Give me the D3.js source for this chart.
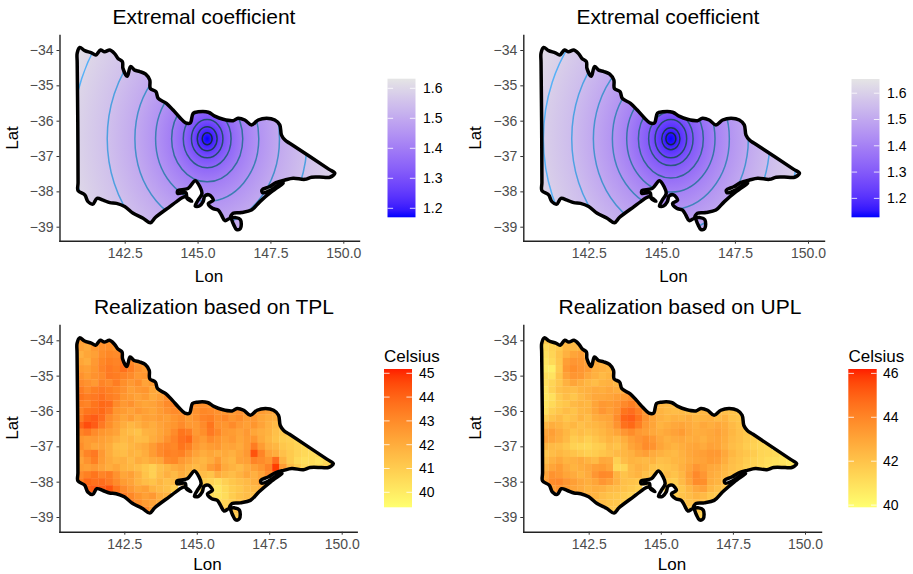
<!DOCTYPE html>
<html>
<head>
<meta charset="utf-8">
<script src="https://cdn.jsdelivr.net/npm/d3@7"></script>
<style>
  body { margin: 0; background: #fff; }
  text { font-family: "Liberation Sans", Arial, sans-serif; }
</style>
</head>
<body>
<div id="vis"></div>
<script>
// state outline, lon/lat
const outlineLon = [140.87,140.96,141.13,141.36,141.51,141.67,141.81,141.99,142.16,142.27,142.42,142.44,142.59,142.70,142.84,143.02,143.22,143.36,143.38,143.57,143.65,143.93,144.16,144.39,144.59,144.75,144.85,145.02,145.37,145.59,145.88,146.22,146.39,146.62,146.85,147.08,147.37,147.65,147.82,147.88,148.00,148.20,149.50,149.71,149.54,149.31,148.91,148.68,148.28,148.00,147.69,147.46,147.21,147.23,147.48,147.73,147.94,147.54,147.14,146.85,146.51,146.22,146.13,146.29,146.47,146.47,146.34,146.22,146.13,145.94,145.82,145.71,145.51,145.37,145.54,145.40,145.25,145.19,145.06,144.92,145.01,145.15,145.08,144.92,144.67,144.32,144.32,144.60,144.64,144.80,144.56,144.28,144.05,143.55,143.38,143.13,142.79,142.50,142.22,141.99,141.76,141.55,141.41,141.24,141.13,140.90,140.90,140.89,140.87]
const outlineLat = [-34.09,-33.93,-34.02,-34.08,-34.14,-34.00,-34.05,-34.00,-34.11,-34.24,-34.33,-34.52,-34.74,-34.47,-34.57,-34.61,-34.68,-34.85,-35.09,-35.18,-35.37,-35.51,-35.70,-35.91,-36.06,-36.06,-35.79,-35.75,-35.76,-35.87,-35.96,-36.00,-35.93,-35.98,-36.12,-35.98,-35.93,-35.98,-36.12,-36.41,-36.55,-36.66,-37.37,-37.49,-37.60,-37.60,-37.60,-37.66,-37.63,-37.68,-37.755,-37.87,-37.96,-38.04,-37.98,-37.85,-37.77,-38.01,-38.29,-38.53,-38.60,-38.62,-38.74,-38.74,-38.80,-39.05,-39.08,-38.91,-38.76,-38.83,-38.67,-38.53,-38.48,-38.34,-38.25,-38.10,-38.13,-38.29,-38.415,-38.415,-38.26,-38.06,-37.87,-37.70,-37.92,-37.98,-38.06,-38.04,-38.20,-38.28,-38.15,-38.29,-38.43,-38.74,-38.89,-38.76,-38.62,-38.43,-38.34,-38.32,-38.25,-38.20,-38.36,-38.29,-38.10,-37.98,-37.75,-36.00,-34.35]

// extremal coefficient fields: contour radius in degrees around the minimum, and its level
const coefCentreA = [145.33, -36.51]
const coefRadiiA = [0, 0.17, 0.34, 0.54, 0.82, 1.22, 1.77, 2.48, 3.43, 4.63, 5.2]
const coefLevelsA = [1.17, 1.2, 1.25, 1.3, 1.35, 1.4, 1.45, 1.5, 1.55, 1.6, 1.625]
const coefCentreB = [145.31, -36.51]
const coefRadiiB = [0, 0.17, 0.31, 0.54, 0.76, 1.11, 1.51, 2.0, 2.65, 3.39, 4.36, 5.2]
const coefLevelsB = [1.13, 1.15, 1.2, 1.25, 1.3, 1.35, 1.4, 1.45, 1.5, 1.55, 1.6, 1.64]

// realization cells, rows from lat -34.0 going south by 0.2, cols from lon 140.85 going east by 0.25, 0 = no cell
const tplRows = [
[42.4,42.7,42.6,42.8,42.6,42.5],
[42.3,42.1,42.6,42.8,42.9,42.7,42.5],
[41.9,42.2,42.4,42.9,43.1,43.0,43.2,42.7,42.4],
[42.2,42.0,42.6,43.1,43.3,43.2,43.5,43.1,42.6,42.5],
[42.5,42.4,42.7,43.2,43.5,43.3,43.7,43.3,42.8,42.5,42.6],
[42.8,42.5,42.8,43.0,43.5,43.4,43.2,43.0,42.6,42.7,42.3],
[43.0,42.8,42.6,43.2,43.0,43.4,42.9,42.6,42.9,42.3,42.5,42.2],
[43.4,43.0,43.3,43.5,43.3,43.1,42.8,42.4,42.6,42.7,42.2,42.0,42.4],
[43.6,43.4,43.5,43.7,43.4,43.2,42.7,42.5,42.3,42.5,42.1,42.4,42.9,43.0],
[43.3,43.2,43.6,43.9,43.8,43.0,42.6,42.8,42.4,42.2,42.3,42.6,43.0,43.2,43.1,43.0,42.8,42.9,42.7,42.5],
[43.2,43.6,43.7,43.9,43.5,42.7,42.5,42.3,42.6,42.4,42.2,42.5,42.8,43.0,42.9,42.7,42.8,43.1,43.0,42.8,42.7,42.6,42.8,42.6,42.4,42.5,42.3,42.2,42.0],
[43.4,44.0,44.2,43.8,43.0,42.6,42.2,42.5,42.1,42.4,42.3,42.5,42.4,42.7,42.9,42.5,42.8,43.2,43.3,42.9,43.1,42.7,42.9,42.5,42.6,42.2,42.0,41.9,41.8],
[44.0,44.5,44.2,43.5,42.9,42.4,42.0,41.7,41.9,42.2,42.0,42.3,42.5,42.7,43.0,42.6,42.6,43.0,43.6,42.8,42.7,43.0,42.6,42.4,42.7,42.3,41.9,41.6,41.7],
[43.2,43.5,43.0,42.7,42.5,42.3,41.7,41.5,41.3,41.8,41.9,42.2,42.5,43.0,43.6,43.4,42.6,42.9,43.5,43.1,42.6,42.5,42.3,42.6,42.2,42.0,41.8,41.4,41.2,41.0],
[42.7,42.5,42.6,42.4,42.2,41.9,41.6,41.8,41.5,41.6,42.0,42.3,42.8,43.2,43.7,43.9,42.8,42.5,43.0,42.7,42.4,42.6,42.2,42.5,42.7,42.1,41.7,41.3,41.0,40.9,40.7],
[42.9,42.5,42.2,42.3,42.0,41.5,41.4,41.7,41.9,42.1,42.5,43.0,43.2,43.1,43.6,43.3,42.6,42.3,42.5,42.6,42.2,42.3,42.1,42.5,43.4,42.5,41.9,41.7,41.2,41.0,40.8,40.6],
[42.6,43.2,43.5,42.6,42.0,41.6,41.5,41.8,41.7,42.0,42.5,43.0,43.3,43.2,43.3,42.8,42.3,42.0,42.2,42.0,42.1,41.9,42.2,42.6,44.4,43.2,42.3,42.0,41.4,41.1,40.8,40.6,40.5,40.7],
[42.3,42.8,43.3,42.5,42.1,41.8,41.9,41.6,42.0,41.8,42.1,42.2,43.0,43.1,42.6,42.3,41.9,41.7,42.0,42.5,41.9,41.7,42.3,42.4,43.2,43.0,42.7,43.8,41.8,41.1,40.6,40.4,40.5,40.3,40.6,40.7],
[42.5,42.4,42.6,42.3,42.0,42.2,41.8,41.7,41.5,41.2,40.9,41.4,41.7,42.0,42.2,41.8,41.6,41.8,42.5,42.9,42.1,41.8,41.6,42.0,42.4,42.7,43.2,44.8,42.5,41.5,41.0,40.6,40.4,40.5,40.8,40.9],
[43.0,43.3,43.6,43.2,43.4,42.8,42.2,42.4,41.9,41.3,40.9,41.5,41.9,41.6,42.0,41.7,41.4,41.5,41.3,42.0,41.7,41.5,41.8,42.2,41.9,42.3,43.0,44.0,42.8],
[43.3,43.9,43.7,43.8,43.5,43.0,42.5,42.3,41.8,41.5,41.3,41.7,41.4,41.6,41.8,41.5,41.0,41.0,40.8,40.5,40.9,41.2,41.4,41.6,41.9,42.3,42.5],
[0,44.0,44.2,44.1,44.4,43.6,43.0,42.6,42.2,42.4,41.8,41.6,41.4,41.0,0,0,0,40.8,40.4,40.2,40.6,41.0,41.2,41.5,41.6,41.8],
[0,0,0,0,43.5,44.0,43.4,43.1,42.7,42.4,42.6,42.0,41.8,0,0,0,0,0,40.5,40.3,40.5,41.0,41.3,41.5,41.4],
[0,0,0,0,0,0,43.6,43.4,42.9,42.5,42.3,42.1,0,0,0,0,0,0,0,40.6,40.8,41.0,41.3,41.5],
[0,0,0,0,0,0,0,0,43.2,43.0,42.4,42.2,0,0,0,0,0,0,0,0,41.0,41.2,41.4],
[0,0,0,0,0,0,0,0,0,0,0,0,0,0,0,0,0,0,0,0,0,41.0,41.0]
]
const uplRows = [
[41.8,41.9,42.0,42.3,42.1,41.9],
[41.2,41.5,41.8,42.4,42.3,42.4,42.2],
[41.0,41.4,42.0,42.6,43.0,43.2,42.6,42.3,42.1],
[40.8,41.2,41.9,43.2,43.5,43.4,43.2,42.8,42.5,42.3],
[40.6,40.5,41.8,43.4,43.7,43.5,43.3,42.7,42.6,42.4,42.2],
[41.0,40.9,42.0,43.1,43.5,43.4,42.9,42.6,42.3,42.5,42.1],
[41.0,41.4,41.9,42.6,43.0,42.7,42.4,42.2,42.5,42.6,42.4,42.1],
[40.8,41.5,42.1,42.3,42.2,42.5,42.6,42.8,42.7,42.9,42.7,42.6,42.8],
[40.7,41.0,41.8,42.2,41.9,42.3,42.6,42.9,42.9,43.0,43.2,43.3,43.6,43.9],
[40.8,41.2,41.7,41.9,42.3,42.5,42.4,43.0,43.4,43.3,43.5,43.9,44.2,43.8,43.2,42.8,42.4,42.3,42.2,42.2],
[41.0,41.6,41.9,42.2,42.0,42.4,42.5,43.0,43.5,43.2,43.6,44.5,44.7,44.2,43.5,42.9,42.5,42.3,42.2,42.3,42.1,42.2,42.4,42.3,42.2,42.1,42.0,41.9,41.8],
[41.6,42.0,42.3,41.9,42.1,42.5,42.2,42.7,42.9,43.0,43.8,44.9,45.1,44.5,43.6,43.0,42.6,42.4,42.6,42.5,42.7,42.4,42.5,42.6,42.3,42.5,42.0,41.9,41.7],
[42.4,42.7,42.5,42.2,42.4,42.1,42.3,42.4,42.6,42.9,43.6,44.6,44.8,44.2,43.4,43.0,42.5,42.7,42.9,43.0,42.8,42.6,42.9,42.7,42.9,42.7,42.3,42.0,41.8],
[43.0,43.2,42.8,42.4,42.0,42.2,42.0,42.2,42.4,42.7,43.0,43.5,43.8,43.4,43.2,42.9,42.7,42.9,43.1,43.3,42.9,42.7,42.8,42.9,43.1,42.8,42.4,42.1,41.9,41.7],
[43.2,43.0,42.7,42.3,41.7,41.9,41.6,41.9,42.2,42.5,42.3,42.7,43.2,43.5,43.7,43.4,42.9,42.6,42.8,42.9,42.7,42.8,42.6,42.9,43.0,42.7,42.3,42.1,41.8,41.6,41.4],
[42.5,42.3,42.2,41.9,41.5,41.4,41.3,41.6,41.7,42.2,42.0,42.4,43.0,43.3,43.8,43.6,43.0,42.7,42.5,42.7,42.9,43.0,42.8,43.1,43.0,42.6,42.2,42.0,41.7,41.5,41.3,41.2],
[41.9,42.2,42.4,42.2,42.0,41.8,41.6,41.7,41.9,42.1,42.3,42.4,42.6,43.0,43.2,42.8,42.6,42.4,42.3,42.6,42.9,43.1,43.2,43.4,43.4,42.9,42.4,42.1,41.9,41.7,41.4,41.3,41.2,41.0],
[42.2,42.6,42.9,42.5,42.6,42.8,42.5,42.3,42.9,42.8,41.6,42.2,42.5,42.4,42.3,42.5,42.1,42.2,42.4,42.5,42.8,43.0,43.1,43.3,43.2,42.7,42.2,42.0,41.7,41.5,41.3,41.1,41.0,40.9,40.7,40.6],
[42.6,43.0,43.3,42.8,42.5,42.7,42.9,43.2,43.3,43.0,41.3,41.4,42.3,42.6,42.4,42.0,41.9,42.0,42.2,42.6,43.0,43.5,43.2,42.9,42.8,42.4,42.1,41.9,41.6,41.5,41.2,41.0,40.9,41.0,40.8,41.0],
[43.0,43.6,43.4,43.0,42.8,42.5,42.8,43.5,43.9,43.8,42.5,42.0,42.3,42.5,42.1,41.9,41.7,42.2,42.0,42.4,43.2,43.9,43.5,42.8,42.6,42.3,42.0,41.8,41.6],
[43.2,43.8,43.9,43.5,43.2,42.9,42.7,43.0,43.5,43.2,42.6,42.1,42.0,41.9,41.7,41.6,41.4,41.8,41.7,42.3,43.0,43.8,43.7,42.7,42.5,42.2,41.9],
[0,43.3,43.6,43.3,43.0,42.8,42.5,42.7,42.6,42.3,42.2,42.0,41.8,41.6,0,0,0,41.5,41.6,41.9,42.4,42.9,43.1,42.4,42.1,41.9],
[0,0,0,0,42.7,42.9,42.6,42.5,42.2,42.0,41.9,41.7,41.5,0,0,0,0,0,41.7,42.0,42.2,42.5,42.3,41.9,41.8],
[0,0,0,0,0,0,42.5,42.3,42.2,42.0,41.9,41.7,0,0,0,0,0,0,0,41.9,42.0,42.2,42.1,41.8],
[0,0,0,0,0,0,0,0,42.1,41.9,41.8,41.7,0,0,0,0,0,0,0,0,41.8,41.9,41.7],
[0,0,0,0,0,0,0,0,0,0,0,0,0,0,0,0,0,0,0,0,0,41.5,41.5]
]

// ticks
const lonTicks = [142.5, 145, 147.5, 150]
const latTicks = [-34, -35, -36, -37, -38, -39]
const coefTicks = [1.2, 1.3, 1.4, 1.5, 1.6]
const tplTicks = [40, 41, 42, 43, 44, 45]
const uplTicks = [40, 42, 44, 46]

const cellLonStart = 140.85, cellLonStep = 0.25
const cellLatStart = -33.9, cellLatStep = 0.2

const svg = d3.select('#vis').append('svg')
  .attr('width', 913)
  .attr('height', 574)

// soften the raster a little, the reference is a scaled bitmap
svg.append('filter').attr('id', 'soft')
  .attr('x', '-5%').attr('y', '-5%').attr('width', '110%').attr('height', '110%')
  .append('feGaussianBlur').attr('stdDeviation', 0.7)

const coefColor = d => d3.scaleLinear().domain(d).range(['#0000ff', '#e5e5e5']).interpolate(d3.interpolateLab)
const heatColor = d => d3.scaleLinear().domain(d).range(['#ffff70', '#ff1e00']).interpolate(d3.interpolateLab)

const panels = [
  {id: 'a', title: 'Extremal coefficient', titleX: 204, titleY: 24, left: 59.5, right: 359, top: 35, bottom: 240.7,
   lon0: 124.7, lon1: 343.3, lat0: 50, lat1: 226.7, lonLabelX: 209, lonLabelY: 282, latLabelY: 138,
   centre: coefCentreA, radii: coefRadiiA, levels: coefLevelsA,
   legend: {x: 387.5, w: 28, top: 78.7, bottom: 217.3, domain: [1.17, 1.632], ticks: coefTicks, color: coefColor([1.17, 1.632]), labelX: 423, fmt: '.1f'}},
  {id: 'b', title: 'Extremal coefficient', titleX: 668, titleY: 24, left: 523.3, right: 824, top: 35, bottom: 240.7,
   lon0: 588.7, lon1: 808, lat0: 50, lat1: 226.7, lonLabelX: 673.5, lonLabelY: 282, latLabelY: 138,
   centre: coefCentreB, radii: coefRadiiB, levels: coefLevelsB,
   legend: {x: 851.5, w: 28, top: 79, bottom: 217.3, domain: [1.128, 1.654], ticks: coefTicks, color: coefColor([1.128, 1.654]), labelX: 887, fmt: '.1f'}},
  {id: 'c', title: 'Realization based on TPL', titleX: 214, titleY: 314, left: 59.5, right: 356.7, top: 325, bottom: 531.7,
   lon0: 124.3, lon1: 341.7, lat0: 340.3, lat1: 517, lonLabelX: 207.5, lonLabelY: 570, latLabelY: 428,
   rows: tplRows,
   legend: {x: 384, w: 28, top: 369, bottom: 507.3, domain: [39.37, 45.18], ticks: tplTicks, color: heatColor([39.37, 45.18]), labelX: 419, fmt: 'd', name: 'Celsius', nameX: 384, nameY: 362}},
  {id: 'd', title: 'Realization based on UPL', titleX: 680, titleY: 314, left: 523.3, right: 821, top: 325, bottom: 531.7,
   lon0: 588.7, lon1: 805, lat0: 340.3, lat1: 517, lonLabelX: 672, lonLabelY: 570, latLabelY: 428,
   rows: uplRows,
   legend: {x: 848.3, w: 28.4, top: 369, bottom: 507.3, domain: [39.9, 46.2], ticks: uplTicks, color: heatColor([39.9, 46.2]), labelX: 883, fmt: 'd', name: 'Celsius', nameX: 848.5, nameY: 362}}
]

panels.forEach(p => {
  let baseX = d3.scaleLinear().domain([142.5, 150]).range([p.lon0, p.lon1])
  let baseY = d3.scaleLinear().domain([-34, -39]).range([p.lat0, p.lat1])
  let x = d3.scaleLinear().domain([baseX.invert(p.left), baseX.invert(p.right)]).range([p.left, p.right])
  let y = d3.scaleLinear().domain([baseY.invert(p.bottom), baseY.invert(p.top)]).range([p.bottom, p.top])

  let g = svg.append('g')
  let line = d3.line().x(d => x(d[0])).y(d => y(d[1])).curve(d3.curveCatmullRomClosed.alpha(0.5))
  let shape = line(d3.zip(outlineLon, outlineLat))

  svg.append('clipPath').attr('id', 'clip-' + p.id).append('path').attr('d', shape)
  let map = g.append('g').attr('clip-path', `url(#clip-${p.id})`)

  if (p.rows) {
    // raster cells
    let color = p.legend.color
    let cells = map.append('g').attr('filter', 'url(#soft)')
    p.rows.forEach((row, i) => {
      cells.selectAll(null)
        .data(row.map((v, j) => ({v, j})).filter(d => d.v > 0))
        .join('rect')
        .attr('x', d => x(cellLonStart + d.j * cellLonStep))
        .attr('y', y(cellLatStart - i * cellLatStep))
        .attr('width', x(cellLonStep) - x(0) + 0.3)
        .attr('height', y(-cellLatStep) - y(0) + 0.3)
        .attr('fill', d => color(d.v))
    })
  } else {
    // smooth field, gradient stops sit on the contour radii
    let color = p.legend.color
    let rMax = d3.max(p.radii)
    let grad = svg.append('radialGradient').attr('id', 'field-' + p.id)
    grad.selectAll('stop')
      .data(p.radii)
      .join('stop')
      .attr('offset', d => d / rMax)
      .attr('stop-color', (d, i) => color(p.levels[i]))
    let cx = x(p.centre[0]), cy = y(p.centre[1])
    map.append('ellipse')
      .attr('cx', cx).attr('cy', cy)
      .attr('rx', x(p.centre[0] + rMax) - cx)
      .attr('ry', y(p.centre[1] - rMax) - cy)
      .attr('fill', `url(#field-${p.id})`)

    let lines = d3.scaleLinear()
      .domain([p.levels[1], p.levels[p.levels.length - 2]])
      .range(['#132B43', '#56B1F7'])
    let rings = p.radii.map((r, i) => ({r, level: p.levels[i]})).slice(1, -1)
    map.selectAll('.ring')
      .data(rings)
      .join('ellipse')
      .attr('cx', cx).attr('cy', cy)
      .attr('rx', d => x(p.centre[0] + d.r) - cx)
      .attr('ry', d => y(p.centre[1] - d.r) - cy)
      .attr('fill', 'none')
      .attr('stroke', d => lines(d.level))
      .attr('stroke-width', 1.5)
  }

  g.append('path')
    .attr('d', shape)
    .attr('fill', 'none')
    .attr('stroke', '#000')
    .attr('stroke-width', 3.5)
    .attr('stroke-linejoin', 'round')

  // axes
  let xAxis = d3.axisBottom(x).tickValues(lonTicks).tickFormat(d3.format('.1f')).tickSize(3).tickSizeOuter(0).tickPadding(4)
  let yAxis = d3.axisLeft(y).tickValues(latTicks).tickFormat(d3.format('d')).tickSize(3).tickSizeOuter(0).tickPadding(3)
  let ax = g.append('g').attr('transform', `translate(0,${p.bottom})`).call(xAxis)
  let ay = g.append('g').attr('transform', `translate(${p.left},0)`).call(yAxis)
  ;[ax, ay].forEach(a => {
    a.selectAll('text').style('font-size', '14px').attr('fill', '#4D4D4D').style('font-family', '"Liberation Sans", Arial, sans-serif')
    a.selectAll('.tick line').attr('stroke', '#333').attr('stroke-width', 1)
    a.select('.domain').attr('stroke', '#222').attr('stroke-width', 1.4).attr('stroke-linecap', 'square')
  })

  // titles
  g.append('text').attr('x', p.titleX).attr('y', p.titleY).attr('text-anchor', 'middle')
    .style('font-size', '21px').attr('fill', '#000').text(p.title)
  g.append('text').attr('x', p.lonLabelX).attr('y', p.lonLabelY).attr('text-anchor', 'middle')
    .style('font-size', '17px').attr('fill', '#000').text('Lon')
  g.append('text').attr('transform', `translate(${p.left - 42},${p.latLabelY}) rotate(-90)`).attr('text-anchor', 'middle')
    .style('font-size', '17px').attr('fill', '#000').text('Lat')

  // colour bar
  let lg = p.legend
  let ly = d3.scaleLinear().domain(lg.domain).range([lg.bottom, lg.top])
  let bar = svg.append('linearGradient').attr('id', 'bar-' + p.id)
    .attr('x1', 0).attr('x2', 0).attr('y1', 1).attr('y2', 0)
  bar.selectAll('stop')
    .data(d3.range(0, 1.001, 0.05))
    .join('stop')
    .attr('offset', d => d)
    .attr('stop-color', d => lg.color(lg.domain[0] + d * (lg.domain[1] - lg.domain[0])))
  g.append('rect').attr('x', lg.x).attr('y', lg.top).attr('width', lg.w).attr('height', lg.bottom - lg.top)
    .attr('fill', `url(#bar-${p.id})`)
  let f = d3.format(lg.fmt)
  lg.ticks.forEach(t => {
    g.append('line').attr('x1', lg.x).attr('x2', lg.x + lg.w / 5).attr('y1', ly(t)).attr('y2', ly(t)).attr('stroke', '#fff').attr('stroke-opacity', 0.8)
    g.append('line').attr('x1', lg.x + lg.w * 4 / 5).attr('x2', lg.x + lg.w).attr('y1', ly(t)).attr('y2', ly(t)).attr('stroke', '#fff').attr('stroke-opacity', 0.8)
    g.append('text').attr('x', lg.labelX).attr('y', ly(t) + 5).style('font-size', '14px').attr('fill', '#000').text(f(t))
  })
  if (lg.name) {
    g.append('text').attr('x', lg.nameX).attr('y', lg.nameY).style('font-size', '17px').attr('fill', '#000').text(lg.name)
  }
})
</script>
</body>
</html>
